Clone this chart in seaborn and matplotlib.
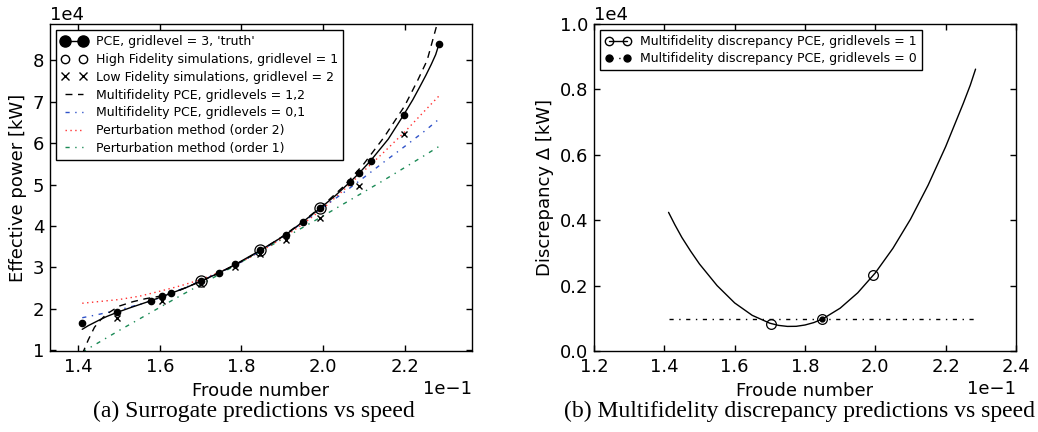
import matplotlib
matplotlib.use("Agg")
import matplotlib.pyplot as plt
from matplotlib.lines import Line2D
from matplotlib.ticker import MultipleLocator
import seaborn as sns

# (a) surrogate predictions: Froude number vs effective power [kW]
# 'truth' PCE (gridlevel 3) quadrature points
fr_truth = [0.1410, 0.14955, 0.1578, 0.16056, 0.16286, 0.1702, 0.17444, 0.17853,
            0.18465, 0.19092, 0.19508, 0.19934, 0.2065, 0.2088, 0.21165, 0.2198, 0.2284]
p_truth = [16600, 19200, 21950, 23000, 23800, 26700, 28600, 30700,
           34100, 37900, 41000, 44300, 50500, 52700, 55750, 66900, 83900]

# 'truth' PCE curve
fr_curve = [0.1410, 0.1425, 0.1441, 0.1455, 0.1470, 0.14955, 0.1530, 0.1578, 0.16056,
            0.16286, 0.1665, 0.1702, 0.17444, 0.17853, 0.18465, 0.19092, 0.19508,
            0.19934, 0.2030, 0.2065, 0.2088, 0.21165, 0.2160, 0.2198, 0.2220, 0.2237,
            0.2252, 0.2265, 0.2276, 0.2284]
p_curve = [15000, 15900, 16700, 17400, 18100, 19100, 20300, 21900, 22900,
           23750, 25100, 26700, 28600, 30700, 34100, 37900, 41000,
           44300, 47300, 50500, 52700, 55750, 61000, 66900, 70500, 73600,
           76400, 79000, 81400, 83900]

# high fidelity simulations (gridlevel 1)
fr_hf = [0.1702, 0.18465, 0.19934]
p_hf = [26700, 34100, 44300]

# low fidelity simulations (gridlevel 2)
fr_lf = [0.14955, 0.16056, 0.1702, 0.17853, 0.18465, 0.19092, 0.19934, 0.2088, 0.2198]
p_lf = [17700, 21950, 26000, 30000, 33200, 36600, 41900, 49700, 62100]

# multifidelity PCE, gridlevels 1,2
fr_mf12 = [0.1410, 0.1425, 0.1440, 0.1455, 0.1470, 0.1500, 0.1535, 0.1565, 0.1600,
           0.1650, 0.1700, 0.1750, 0.1800, 0.1850, 0.1900, 0.1950, 0.2000, 0.2050,
           0.2100, 0.2150, 0.2200, 0.2232, 0.2255, 0.2279, 0.2290]
p_mf12 = [9000, 12500, 15500, 17300, 18700, 20600, 21700, 22400, 23000,
          24500, 26600, 28800, 31400, 34200, 37400, 41000, 45000, 49500,
          55000, 61500, 69000, 75200, 80000, 88600, 93000]

# common x samples for the other curves
fr_line = [0.1410, 0.1450, 0.1500, 0.1550, 0.1600, 0.1650, 0.1700, 0.1750, 0.1800,
           0.1850, 0.1900, 0.1950, 0.2000, 0.2050, 0.2100, 0.2150, 0.2200, 0.2250, 0.2284]
# multifidelity PCE, gridlevels 0,1
p_mf01 = [17800, 18600, 19700, 21000, 22600, 24600, 26700, 28900, 31300,
          34100, 37300, 40800, 44500, 48000, 51700, 55500, 59200, 63000, 65800]
# perturbation method, order 2
p_pert2 = [21300, 21700, 22200, 23000, 24200, 25500, 27000, 29000, 31300,
           34000, 37000, 40400, 44200, 48600, 53300, 57900, 62700, 67900, 71400]
# perturbation method, order 1
p_pert1 = [9500, 11800, 14700, 17500, 20300, 23100, 25800, 28500, 31300,
           34000, 36800, 39600, 42400, 45300, 48200, 51100, 54100, 57100, 59200]

# (b) multifidelity discrepancy
fr_delta = [0.1412, 0.1430, 0.145, 0.1475, 0.150, 0.155, 0.160, 0.165, 0.170, 0.1725,
            0.175, 0.1775, 0.180, 0.1825, 0.185, 0.190, 0.195, 0.200, 0.205, 0.210,
            0.215, 0.220, 0.225, 0.2270, 0.2285]
delta = [4240, 3860, 3470, 3050, 2660, 2000, 1470, 1090, 850, 783,
         752, 755, 795, 869, 980, 1310, 1780, 2390, 3140, 4030,
         5070, 6250, 7570, 8130, 8620]
fr_delta_hf = [0.1703, 0.1849, 0.1994]
delta_hf = [840, 975, 2310]
fr_delta0 = [0.1412, 0.1849, 0.2285]
delta0 = [975, 975, 975]

labels_a = ["PCE, gridlevel = 3, 'truth'",
            "High Fidelity simulations, gridlevel = 1",
            "Low Fidelity simulations, gridlevel = 2",
            "Multifidelity PCE, gridlevels = 1,2",
            "Multifidelity PCE, gridlevels = 0,1",
            "Perturbation method (order 2)",
            "Perturbation method (order 1)"]
labels_b = ["Multifidelity discrepancy PCE, gridlevels = 1",
            "Multifidelity discrepancy PCE, gridlevels = 0"]

sns.set_style("ticks")
plt.rcParams["font.family"] = ["DejaVu Sans"]
plt.rcParams["axes.unicode_minus"] = True
plt.rcParams["text.color"] = "k"
plt.rcParams["axes.labelcolor"] = "k"
plt.rcParams["xtick.color"] = "k"
plt.rcParams["ytick.color"] = "k"

c_blue = "#2f52c8"
c_red = "#ff3030"
c_green = "#1a8a55"
ls_dash = (0, (5, 4))
ls_dashdot = (0, (3, 4, 1, 4))
ls_dot = (0, (1, 2.5))

fig = plt.figure(figsize=(10.38, 4.32), dpi=100)
ax1 = fig.add_axes([50 / 1038, 81 / 432, 422 / 1038, 327 / 432])
ax2 = fig.add_axes([594 / 1038, 81 / 432, 422 / 1038, 327 / 432])

# ---- panel (a)
sns.lineplot(x=fr_line, y=p_pert1, ax=ax1, color=c_green, lw=1, linestyle=ls_dashdot,
             sort=False, estimator=None)
sns.lineplot(x=fr_line, y=p_pert2, ax=ax1, color=c_red, lw=1, linestyle=ls_dot,
             sort=False, estimator=None)
sns.lineplot(x=fr_line, y=p_mf01, ax=ax1, color=c_blue, lw=1, linestyle=ls_dashdot,
             sort=False, estimator=None)
sns.lineplot(x=fr_mf12, y=p_mf12, ax=ax1, color="k", lw=1, linestyle=ls_dash,
             sort=False, estimator=None)
sns.lineplot(x=fr_curve, y=p_curve, ax=ax1, color="k", lw=1, sort=False, estimator=None)
ax1.plot(fr_truth, p_truth, "o", color="k", ms=4.5, zorder=5)
ax1.plot(fr_hf, p_hf, "o", mfc="none", mec="k", ms=8, mew=0.9, zorder=5)
ax1.plot(fr_lf, p_lf, "x", color="k", ms=4, mew=1, zorder=5)

ax1.set_xlim(0.1331, 0.2365)
ax1.set_ylim(9760, 88800)
ax1.yaxis.set_major_locator(MultipleLocator(10000))
ax1.set_xlabel("Froude number", fontsize=13)
ax1.set_ylabel("Effective power [kW]", fontsize=13)

handles_a = [
    Line2D([], [], color="k", lw=1, marker="o", ms=8),
    Line2D([], [], ls="none", marker="o", mfc="none", mec="k", ms=6),
    Line2D([], [], ls="none", marker="x", color="k", ms=6),
    Line2D([], [], color="k", lw=1, ls=ls_dash),
    Line2D([], [], color=c_blue, lw=1, ls=ls_dashdot),
    Line2D([], [], color=c_red, lw=1, ls=ls_dot),
    Line2D([], [], color=c_green, lw=1, ls=ls_dashdot),
]
leg = ax1.legend(handles_a, labels_a, loc="upper left", fontsize=9, numpoints=2,
                 labelspacing=0.38, handlelength=2.0, handletextpad=0.8,
                 fancybox=False, edgecolor="k", framealpha=1, borderpad=0.4)
leg.get_frame().set_linewidth(1)

# ---- panel (b)
sns.lineplot(x=fr_delta, y=delta, ax=ax2, color="k", lw=1, sort=False, estimator=None)
ax2.plot(fr_delta_hf, delta_hf, "o", mfc="none", mec="k", ms=7, mew=0.9, zorder=5)
sns.lineplot(x=fr_delta0, y=delta0, ax=ax2, color="k", lw=1, linestyle=ls_dashdot,
             sort=False, estimator=None)
ax2.plot(fr_delta0[1:2], delta0[1:2], "o", color="k", ms=3.5, zorder=6)

ax2.set_xlim(0.12, 0.24)
ax2.set_ylim(0, 10000)
ax2.set_xlabel("Froude number", fontsize=13)
ax2.set_ylabel("Discrepancy \u0394 [kW]", fontsize=13)

handles_b = [
    Line2D([], [], color="k", lw=1, marker="o", mfc="none", mec="k", ms=6),
    Line2D([], [], color="k", lw=1, ls=ls_dashdot, marker="o", ms=5),
]
leg2 = ax2.legend(handles_b, labels_b, loc="upper left", fontsize=9, numpoints=2,
                  labelspacing=0.3, handlelength=2.0, handletextpad=0.8,
                  fancybox=False, edgecolor="k", framealpha=1, borderpad=0.4)
leg2.get_frame().set_linewidth(1)

for ax in (ax1, ax2):
    ax.ticklabel_format(style="sci", scilimits=(0, 0), axis="both", useMathText=False)
    ax.tick_params(direction="in", top=True, right=True, length=4, width=1,
                   labelsize=13, colors="k")
    ax.tick_params(axis="x", pad=5)
    ax.tick_params(axis="y", pad=4)
    ax.xaxis.get_offset_text().set_fontsize(13)
    ax.yaxis.get_offset_text().set_fontsize(13)
    for sp in ax.spines.values():
        sp.set_linewidth(1)
        sp.set_color("k")

fig.text(254 / 1038, 1 - 411 / 432, "(a) Surrogate predictions vs speed",
         family="Liberation Serif", fontsize=17, ha="center", va="center")
fig.text(799 / 1038, 1 - 411 / 432, "(b) Multifidelity discrepancy predictions vs speed",
         family="Liberation Serif", fontsize=17, ha="center", va="center")

fig.savefig("out.png", dpi=100)
